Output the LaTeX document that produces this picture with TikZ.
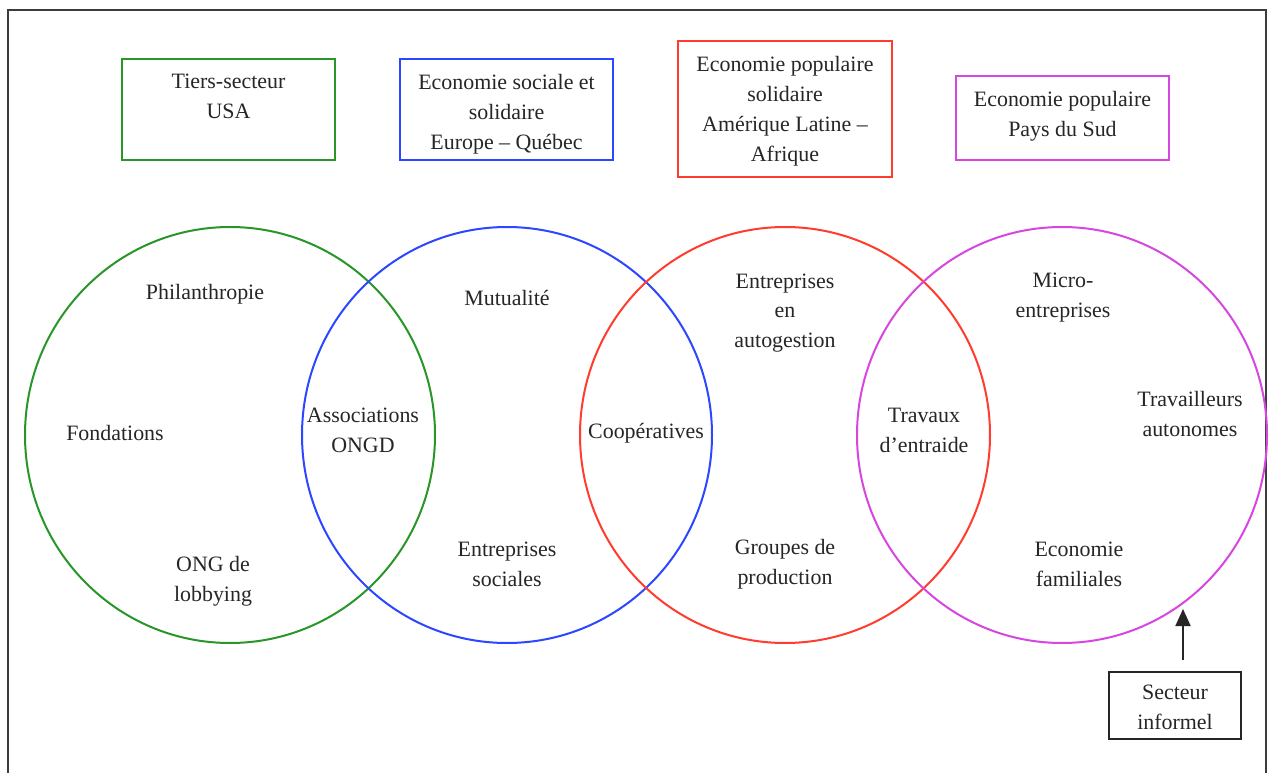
\documentclass[tikz,border=0pt]{standalone}
\usepackage{fontspec}
\setmainfont{Liberation Serif}
\usetikzlibrary{arrows.meta}
\definecolor{cgreen}{RGB}{40,150,40}
\definecolor{cblue}{RGB}{45,70,255}
\definecolor{cred}{RGB}{255,60,45}
\definecolor{cmag}{RGB}{215,70,225}
\definecolor{cframe}{RGB}{60,60,60}
\begin{document}
\begin{tikzpicture}[x=1bp,y=-1bp,
  txt/.style={font=\fontsize{22}{30}\selectfont, align=center, inner sep=0pt, text=black!85},
  hdr/.style={txt, anchor=north},
  cat/.style={draw=#1, line width=2bp, inner sep=0pt},
  lbl/.style={draw=black!85, line width=1.6bp, inner sep=0pt, minimum width=132bp, minimum height=67bp}]
\useasboundingbox (0,0) rectangle (1269,773);
\fill[white] (0,0) rectangle (1269,773);
% frame
\coordinate (fbl) at (8,775);
\coordinate (ftl) at (8,10);
\coordinate (ftr) at (1266,10);
\coordinate (fbr) at (1266,775);
\draw[cframe, line width=1.5bp] (fbl) -- (ftl) -- (ftr) -- (fbr);
% header boxes
\node[cat=cgreen, minimum width=213bp, minimum height=101bp] (b1) at (228.5,109.5) {};
\node[cat=cblue, minimum width=213bp, minimum height=101bp] (b2) at (506.5,109.5) {};
\node[cat=cred, minimum width=214bp, minimum height=136bp] (b3) at (785,109) {};
\node[cat=cmag, minimum width=213bp, minimum height=84bp] (b4) at (1062.5,118) {};
\node[hdr] (t1) at ([yshift=-16bp]b1.north) {Tiers-secteur\\USA};
\node[hdr] (t2) at ([yshift=-16bp]b2.north) {Economie sociale et\\solidaire\\Europe -- Québec};
\node[hdr] (t3) at ([yshift=-16bp]b3.north) {Economie populaire\\solidaire\\Amérique Latine --\\Afrique};
\node[hdr] (t4) at ([yshift=-16bp]b4.north) {Economie populaire\\Pays du Sud};
% circles
\draw[cgreen, line width=2bp] (230,435) ellipse [x radius=205, y radius=208];
\draw[cblue, line width=2bp] (507,435) ellipse [x radius=205, y radius=208];
\draw[cred, line width=2bp] (785,435) ellipse [x radius=205, y radius=208];
\draw[cmag, line width=2bp] (1062,435) ellipse [x radius=205, y radius=208];
% texts
\node[txt] (phil) at (205,294) {Philanthropie};
\node[txt] (fond) at (115,433) {Fondations};
\node[txt] (ong) at (213,581) {ONG de\\lobbying};
\node[txt] (assoc) at (363,430) {Associations\\ONGD};
\node[txt] (mut) at (507,298) {Mutualité};
\node[txt] (esoc) at (507,564) {Entreprises\\sociales};
\node[txt] (coop) at (646,433) {Coopératives};
\node[txt] (eauto) at (785,313) {Entreprises\\en\\autogestion};
\node[txt] (grp) at (785,564) {Groupes de\\production};
\node[txt] (trav) at (924,430) {Travaux\\d’entraide};
\node[txt] (micro) at (1063,298) {Micro-\\entreprises};
\node[txt] (tauto) at (1190,414) {Travailleurs\\autonomes};
\node[txt] (efam) at (1079,564) {Economie\\familiales};
% secteur informel
\node[lbl] (si) at (1175,705.5) {};
\node[txt] (sit) at ([yshift=-2bp]si.center) {Secteur\\informel};
\coordinate (as) at (1183,660);
\coordinate (ae) at (1183,609);
\draw[black!85, line width=1.8bp, -{Triangle[width=15bp,length=17bp]}] (as) -- (ae);
\end{tikzpicture}
\end{document}
